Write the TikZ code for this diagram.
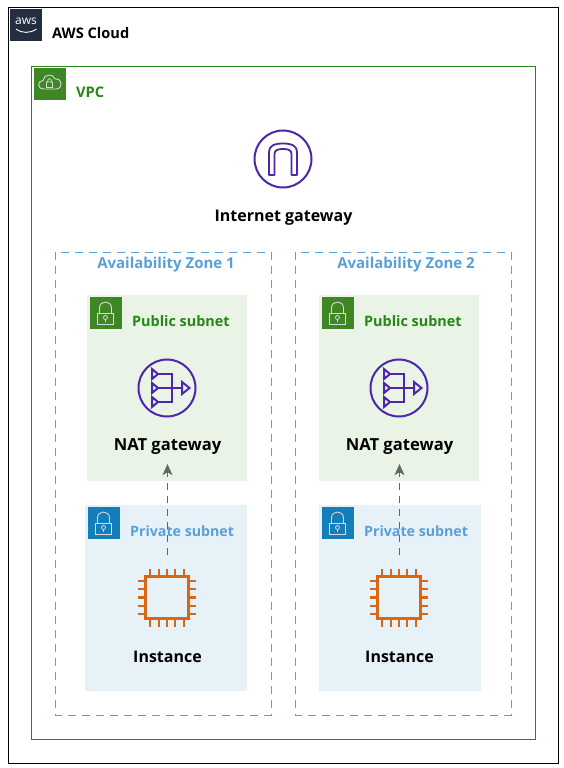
\documentclass[tikz,border=0pt]{standalone}
\usepackage{fontspec}
\setmainfont{Open Sans}
\usetikzlibrary{arrows.meta}
\definecolor{awsdark}{HTML}{232F3E}
\definecolor{vpcgreen}{HTML}{248814}
\definecolor{iconG}{HTML}{3F8624}
\definecolor{iconB}{HTML}{147EBA}
\definecolor{azblue}{HTML}{5A9FD8}
\definecolor{pubbg}{HTML}{E9F3E6}
\definecolor{pribg}{HTML}{E6F2F8}
\definecolor{purp}{HTML}{4D27AA}
\definecolor{orng}{HTML}{D86613}
\definecolor{arrgray}{HTML}{5A6B5F}
\tikzset{
  x=1pt,y=-1pt,
  lbl/.style={font=\bfseries\fontsize{16}{18}\selectfont,text=black,inner sep=0pt},
  natlbl/.style={lbl,font=\bfseries\fontsize{16.6}{18}\selectfont},
  grp/.style={font=\bfseries\fontsize{14.6}{16}\selectfont,inner sep=0pt,anchor=west},
  azlbl/.style={grp,anchor=center,text=azblue,font=\bfseries\fontsize{15}{16}\selectfont},
  prilbl/.style={grp,text=azblue,font=\bfseries\fontsize{14.2}{16}\selectfont},
  publbl/.style={grp,text=vpcgreen,font=\bfseries\fontsize{14.4}{16}\selectfont},
  azbox/.style={draw=azblue,line width=1pt,dash pattern=on 8pt off 6pt},
  conn/.style={arrgray,line width=1pt,dash pattern=on 7pt off 6pt,shorten >=9pt,-{Stealth[length=11pt,width=10pt,inset=3pt]}},
  lockicon/.pic={
    \draw[white!85!black,line width=.9pt] (-8,0.5) rectangle (8,11.5);
    \draw[white!85!black,line width=.9pt] (-6,0.5) -- (-6,-4.5) .. controls (-6,-12.5) and (6,-12.5) .. (6,-4.5) -- (6,0.5);
    \draw[white!85!black,line width=.8pt] (0,5) circle (2) (0,7) -- (0,9.5);
  },
  natgw/.pic={
    \draw[purp,line width=2pt] (0,0) circle (28.5);
    \foreach \yy in {-14,0,14}
      \draw[purp,line width=2pt,line join=miter] (-15,\yy-5) -- (-9,\yy) -- (-15,\yy+5) -- cycle;
    \draw[purp,line width=2pt] (-9,-14) -- (4.7,-14) -- (4.7,14) -- (-9,14) (-9,0) -- (15,0);
    \draw[purp,line width=2pt,line join=miter] (15,-6) -- (22.5,0) -- (15,6) -- cycle;
  },
  chip/.pic={
    \draw[orng,line width=2.1pt] (-21.5,-21) rectangle (21.5,21);
    \foreach \t in {-16.6,-8.3,0,8.3,16.6}{
      \draw[orng,line width=2.1pt] (\t,-21) -- (\t,-29) (\t,21) -- (\t,29) (-21.5,\t) -- (-29,\t) (21.5,\t) -- (29,\t);
    }
  },
}
\begin{document}
\begin{tikzpicture}
\useasboundingbox (0,0) rectangle (564,768);
\fill[white] (0,0) rectangle (564,768);
% AWS cloud
\draw[black,line width=1pt] (8,8) rectangle (558,763);
\fill[awsdark] (10,9) rectangle (42,41);
\node[inner sep=0pt,text=white,font=\fontsize{12}{12}\selectfont] (awslogo) at (26,21.5) {aws};
\draw[white,line width=.9pt] (16,29) .. controls (22,33.5) and (30,33.5) .. (36.5,29);
\node[grp,text=black] (cloudlbl) at (52,33.5) {AWS Cloud};
% VPC
\draw[vpcgreen,line width=1pt] (31,67) rectangle (535,739);
\fill[iconG] (34,68) rectangle (66,100);
\draw[white!85!black,line width=.9pt] (44,89) .. controls (37,89) and (37,81) .. (43,80.5) .. controls (44,74) and (53,73) .. (55,79) .. controls (63,78) and (63,89) .. (56,89) -- cycle;
\draw[white!85!black,line width=.8pt] (46.5,82) rectangle (52.5,87.5) (47.5,82) .. controls (47.5,77.5) and (51.5,77.5) .. (51.5,82);
\node[grp,text=vpcgreen] (vpclbl) at (76,92.5) {VPC};
% IGW
\draw[purp,line width=2pt] (283,159) circle (28.5);
\draw[purp,line width=1.8pt,line join=round] (269,175) -- (269,152) .. controls (269,146) and (274,143.5) .. (283,143.5) .. controls (292,143.5) and (297,146) .. (297,152) -- (297,175) -- (291.5,175) -- (291.5,154) .. controls (291.5,150) and (288,149) .. (283,149) .. controls (278,149) and (274.5,150) .. (274.5,154) -- (274.5,175) -- cycle;
\node[lbl] (igwlbl) at (283.5,218) {Internet gateway};
% AZs
\draw[azbox] (55,252) rectangle (271,715);
\draw[azbox] (295,252) rectangle (511,715);
\node[azlbl] (az1lbl) at (166,264.5) {Availability Zone 1};
\node[azlbl] (az2lbl) at (406,264.5) {Availability Zone 2};
% Subnets
\fill[pubbg] (87,295) rectangle (247,481);
\fill[pubbg] (319,295) rectangle (479,481);
\fill[pribg] (85,505) rectangle (247,691);
\fill[pribg] (319,505) rectangle (481,691);
\fill[iconG] (90,297) rectangle (122,329);
\fill[iconG] (322,297) rectangle (354,329);
\fill[iconB] (88,507) rectangle (120,539);
\fill[iconB] (322,507) rectangle (354,539);
\pic at (105.5,312.5) {lockicon};
\pic at (337.5,312.5) {lockicon};
\pic at (103.5,522.5) {lockicon};
\pic at (337.5,522.5) {lockicon};
\node[publbl] (pub1lbl) at (132,321.5) {Public subnet};
\node[publbl] (pub2lbl) at (364,321.5) {Public subnet};
\node[prilbl] (pri1lbl) at (130,531.5) {Private subnet};
\node[prilbl] (pri2lbl) at (364,531.5) {Private subnet};
% Icons
\pic at (167,388) {natgw};
\pic at (399,388) {natgw};
\pic at (167,597.5) {chip};
\pic at (399,597.5) {chip};
\node[natlbl] (nat1) at (167.5,447) {NAT gateway};
\node[natlbl] (nat2) at (399.5,447) {NAT gateway};
\node[lbl] (inst1) at (167.5,656.5) {Instance};
\node[lbl] (inst2) at (399.5,656.5) {Instance};
% Connectors
\coordinate (a1s) at (167.5,555);
\coordinate (a2s) at (399.5,555);
\draw[conn] (a1s) -- (nat1.south);
\draw[conn] (a2s) -- (nat2.south);
\end{tikzpicture}
\end{document}
